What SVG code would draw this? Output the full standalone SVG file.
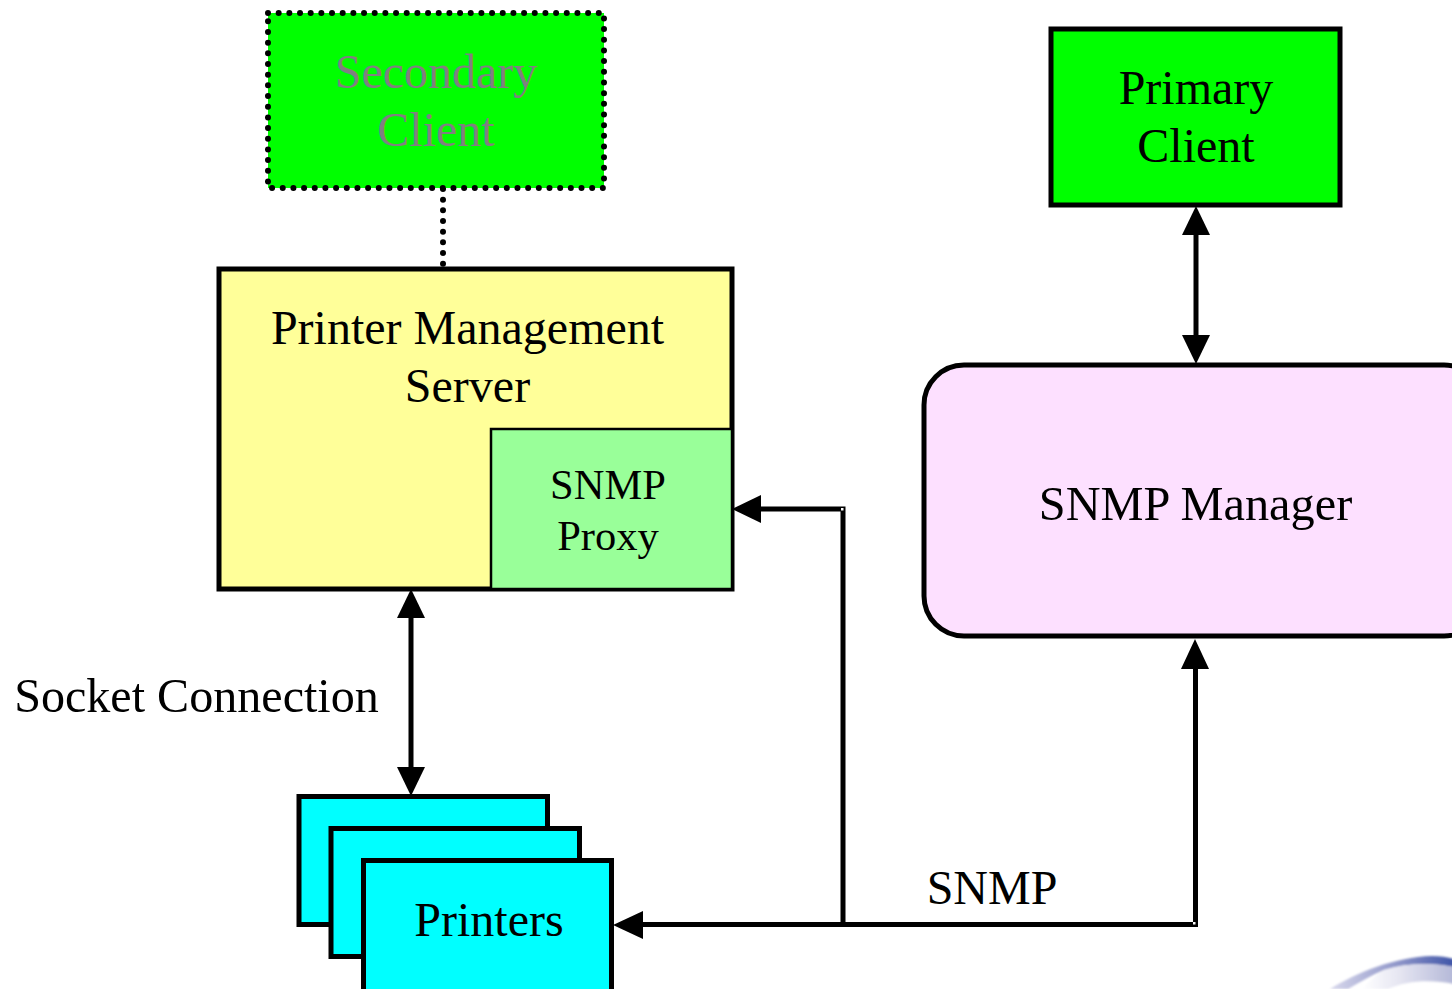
<svg xmlns="http://www.w3.org/2000/svg" width="1452" height="989" viewBox="0 0 1452 989">
<style>
text{font-family:"Liberation Serif","Times New Roman",serif;font-size:48px;fill:#000;text-anchor:middle}
.b{stroke:#000;stroke-width:5}
.c{fill:none;stroke:#000;stroke-width:5}
.p{fill:#0ff;stroke:#000;stroke-width:5}
.h{fill:#000}
.d{fill:#fff}
</style>
<defs>
<linearGradient id="lg" x1="0" y1="0" x2="1" y2="0"><stop offset="0" stop-color="#d8d8ec"/><stop offset="0.55" stop-color="#8f96c9"/><stop offset="1" stop-color="#3f55a8"/></linearGradient>
<linearGradient id="lg2" x1="0" y1="0" x2="1" y2="0"><stop offset="0" stop-color="#fff"/><stop offset="0.4" stop-color="#e6e6f2"/><stop offset="1" stop-color="#b4b8d8"/></linearGradient>
<filter id="bl"><feGaussianBlur stdDeviation="0.8"/></filter>
</defs>
<g id="logo" filter="url(#bl)">
<path d="M1330 989C1358 972 1395 957 1432 956C1440 956 1447 957 1454 959L1454 967C1430 962 1405 963 1384 970C1372 975 1360 982 1348 989Z" fill="url(#lg)"/>
<path d="M1384 970C1405 963 1430 962 1454 967L1454 984C1430 979 1405 981 1388 989L1362 989C1368 982 1376 975 1384 970Z" fill="url(#lg2)"/>
</g>
<g id="connectors">
<path class="c" stroke-dasharray="0 10.67" stroke-linecap="round" style="stroke-width:6" d="M443 189V267"/>
<path class="c" d="M1196 226V345"/>
<path class="c" d="M411 610V776"/>
<path class="c" d="M636 924.5H1195.5V660"/>
<path class="c" d="M843 924V509H760"/>
<rect class="d" x="841" y="508" width="2.5" height="2.5"/>
<rect class="d" x="1193" y="922" width="2.5" height="2.5"/>
<path class="h" d="M1196 206L1210 235H1182Z"/>
<path class="h" d="M1196 364L1182 335H1210Z"/>
<path class="h" d="M411 589L425 618H397Z"/>
<path class="h" d="M411 796L397 767H425Z"/>
<path class="h" d="M1195 639L1209 669H1181Z"/>
<path class="h" d="M613 925L643 911V939Z"/>
<path class="h" d="M732 509L761 495V523Z"/>
</g>
<g id="secondary-client">
<rect x="268" y="13" width="336" height="175" fill="#0f0" stroke="#000" stroke-width="6" stroke-dasharray="0 10.67" stroke-linecap="round"/>
<text x="436" y="88" style="fill:#808080">Secondary</text>
<text x="436" y="146" style="fill:#808080">Client</text>
</g>
<g id="primary-client">
<rect x="1051" y="29" width="289" height="176" fill="#0f0" class="b"/>
<text x="1196" y="104">Primary</text>
<text x="1196" y="162">Client</text>
</g>
<g id="printer-management-server">
<rect x="219" y="269" width="513" height="320" fill="#ff9" class="b"/>
<text x="467.5" y="344">Printer Management</text>
<text x="467.5" y="402">Server</text>
</g>
<g id="snmp-proxy">
<rect x="491" y="429" width="241" height="160" fill="#9f9" stroke="#000" stroke-width="2.5"/>
<text x="608" y="499" style="font-size:42.5px">SNMP</text>
<text x="608" y="550" style="font-size:42.5px">Proxy</text>
</g>
<g id="snmp-manager">
<rect x="924" y="365" width="560" height="271" rx="40" fill="#fde0ff" class="b"/>
<text x="1195.5" y="520" style="font-size:48.3px">SNMP Manager</text>
</g>
<g id="printers">
<rect x="299" y="796.500" width="248.500" height="128" class="p"/>
<rect x="331" y="828.500" width="248.500" height="128" class="p"/>
<rect x="363.500" y="860.500" width="248" height="135" class="p"/>
<text x="489" y="936">Printers</text>
</g>
<text x="196.500" y="712" style="font-size:48.100px">Socket Connection</text>
<text x="992" y="904">SNMP</text>
</svg>
